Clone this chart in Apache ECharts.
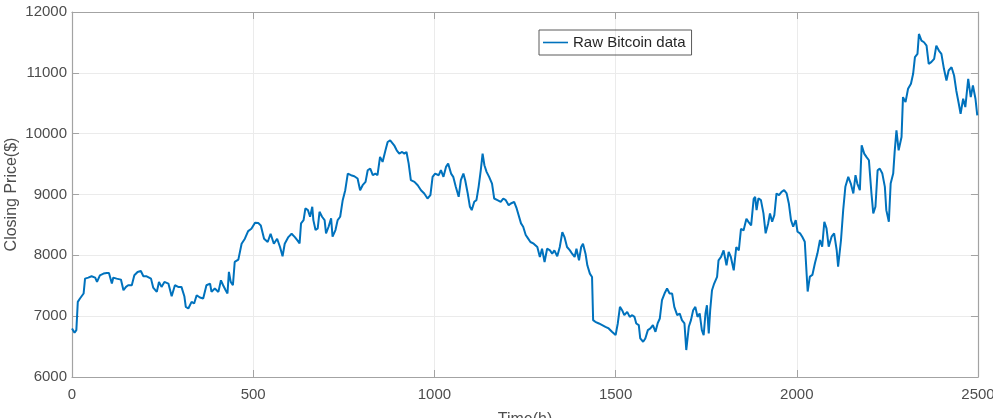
<!DOCTYPE html>
<html>
<head>
<meta charset="utf-8">
<script src="https://cdn.jsdelivr.net/npm/echarts@6/dist/echarts.min.js"></script>
<style>
  html, body { margin: 0; padding: 0; background: #fff; }
  #chart { width: 993px; height: 418px; }
</style>
</head>
<body>
<div id="chart"></div>
<script>
// hours (h)
const hours = [
  0, 7, 12, 16, 22, 27, 32, 36, 45, 54, 64, 69, 77, 87, 96, 102, 110, 114, 123, 135,
  142, 149, 155, 165, 172, 181, 190, 197, 206, 218, 224, 234, 240, 247, 255, 266, 275, 284, 293, 302,
  310, 314, 321, 330, 337, 344, 353, 362, 371, 381, 385, 394, 404, 411, 417, 424, 429, 433, 438, 444,
  449, 459, 468, 477, 486, 495, 505, 514, 521, 530, 540, 548, 557, 566, 574, 581, 587, 597, 606, 615,
  622, 628, 632, 639, 644, 651, 657, 663, 666, 672, 678, 683, 690, 697, 701, 708, 715, 719, 727, 733,
  740, 747, 754, 761, 770, 779, 788, 795, 802, 810, 816, 823, 830, 837, 843, 850, 857, 865, 871, 878,
  883, 889, 896, 903, 911, 917, 923, 929, 935, 945, 954, 963, 972, 981, 989, 995, 1002, 1012, 1018, 1025,
  1032, 1038, 1046, 1052, 1059, 1067, 1073, 1080, 1085, 1092, 1098, 1103, 1110, 1116, 1122, 1128, 1133, 1138, 1144, 1151,
  1159, 1165, 1174, 1183, 1190, 1197, 1205, 1211, 1220, 1227, 1232, 1239, 1245, 1252, 1256, 1265, 1274, 1284, 1291, 1297,
  1304, 1311, 1319, 1325, 1331, 1339, 1346, 1353, 1359, 1366, 1374, 1380, 1387, 1392, 1399, 1405, 1410, 1417, 1422, 1429,
  1435, 1438, 1444, 1454, 1463, 1472, 1481, 1490, 1500, 1506, 1512, 1518, 1524, 1532, 1539, 1546, 1552, 1557, 1564, 1568,
  1576, 1582, 1589, 1596, 1603, 1610, 1616, 1622, 1628, 1635, 1642, 1649, 1656, 1662, 1670, 1677, 1683, 1690, 1695, 1702,
  1708, 1714, 1720, 1726, 1732, 1738, 1743, 1748, 1752, 1757, 1761, 1766, 1772, 1780, 1784, 1791, 1798, 1806, 1812, 1818,
  1826, 1833, 1840, 1846, 1853, 1861, 1867, 1874, 1881, 1885, 1889, 1894, 1901, 1908, 1914, 1921, 1926, 1932, 1938, 1944,
  1951, 1958, 1965, 1972, 1978, 1984, 1990, 1997, 2002, 2009, 2015, 2022, 2027, 2030, 2036, 2043, 2050, 2057, 2064, 2070,
  2076, 2082, 2088, 2096, 2103, 2110, 2114, 2122, 2128, 2134, 2142, 2149, 2156, 2162, 2167, 2174, 2179, 2186, 2192, 2199,
  2206, 2211, 2217, 2223, 2229, 2236, 2243, 2247, 2254, 2259, 2266, 2270, 2275, 2281, 2289, 2293, 2300, 2307, 2315, 2321,
  2326, 2333, 2337, 2344, 2351, 2358, 2364, 2371, 2379, 2385, 2392, 2399, 2406, 2413, 2419, 2427, 2434, 2440, 2447, 2452,
  2459, 2465, 2473, 2480, 2486, 2493, 2498
];

// closing price ($)
const price = [
  6798, 6727, 6771, 7235, 7290, 7262, 7372, 7617, 7634, 7656, 7634, 7563, 7672, 7700, 7710, 7710, 7536, 7634, 7617, 7601,
  7426, 7481, 7508, 7508, 7672, 7727, 7743, 7656, 7656, 7617, 7470, 7399, 7563, 7481, 7563, 7536, 7328, 7508, 7481, 7481,
  7328, 7153, 7126, 7235, 7208, 7344, 7306, 7290, 7508, 7536, 7399, 7454, 7399, 7590, 7508, 7426, 7372, 7727, 7563, 7508,
  7891, 7929, 8191, 8273, 8399, 8437, 8535, 8530, 8492, 8273, 8219, 8355, 8191, 8273, 8137, 7984, 8191, 8300, 8355, 8300,
  8246, 8197, 8525, 8579, 8771, 8743, 8634, 8798, 8579, 8415, 8443, 8716, 8634, 8579, 8361, 8470, 8607, 8306, 8415, 8579,
  8634, 8907, 9071, 9344, 9317, 9301, 9262, 9071, 9153, 9208, 9399, 9426, 9317, 9344, 9317, 9618, 9536, 9727, 9863, 9891,
  9902, 9809, 9727, 9672, 9699, 9672, 9699, 9508, 9235, 9208, 9153, 9071, 9016, 8934, 8989, 9290, 9344, 9317, 9399, 9290,
  9454, 9508, 9344, 9290, 9126, 8962, 9235, 9344, 9235, 9016, 8798, 8743, 8880, 8907, 9126, 9399, 9672, 9481, 9372, 9290,
  9180, 8934, 8907, 8880, 8934, 8907, 8825, 8852, 8880, 8771, 8798, 8525, 8470, 8334, 8300, 8219, 8191, 8137, 7973, 8109,
  7891, 8109, 8082, 8027, 8082, 7984, 8137, 8382, 8300, 8137, 8082, 8027, 7973, 8109, 7918, 8137, 8191, 8027, 7836, 7699,
  7645, 6935, 6907, 6880, 6853, 6825, 6798, 6743, 6689, 6880, 7153, 7098, 7016, 7071, 6989, 7016, 6989, 6880, 6853, 6634,
  6579, 6634, 6771, 6798, 6853, 6743, 6880, 6962, 7262, 7372, 7454, 7372, 7372, 7153, 7016, 7044, 6935, 6880, 6443, 6825,
  6935, 7098, 7153, 6989, 7044, 6771, 6689, 7044, 7180, 6716, 7098, 7426, 7536, 7645, 7918, 7973, 8082, 7836, 8055, 7973,
  7754, 8137, 8082, 8437, 8410, 8601, 8546, 8492, 8929, 8962, 8743, 8935, 8907, 8689, 8361, 8525, 8689, 8552, 8661, 9017,
  8989, 9044, 9071, 9017, 8853, 8579, 8470, 8579, 8388, 8361, 8306, 8224, 7705, 7405, 7651, 7678, 7869, 8033, 8252, 8143,
  8552, 8443, 8143, 8306, 8361, 8088, 7815, 8252, 8743, 9126, 9290, 9180, 9017, 9317, 9180, 9071, 9809, 9672, 9618, 9563,
  9017, 8689, 8798, 9399, 9426, 9344, 9126, 8743, 8552, 9180, 9344, 9700, 10055, 9727, 9945, 10601, 10519, 10738, 10820, 10984,
  11257, 11311, 11639, 11530, 11503, 11448, 11148, 11175, 11230, 11448, 11366, 11311, 11066, 10874, 11038, 11093, 10956, 10710, 10492, 10328,
  10574, 10437, 10902, 10601, 10792, 10574, 10301
];

const xTicks = [0, 500, 1000, 1500, 2000, 2500];
const yTicks = [6000, 7000, 8000, 9000, 10000, 11000, 12000];

const chart = echarts.init(document.getElementById("chart"), null, { renderer: "canvas" });

const axisColor = "#a3a3a3";
const labelColor = "#4d4d4d";
const fontFamily = "Liberation Sans, Arial, sans-serif";

// MATLAB style box: ticks pointing inwards on all four sides
function boxAxis(pos, isX) {
  return {
    type: "value",
    position: pos,
    min: isX ? xTicks[0] : yTicks[0],
    max: isX ? xTicks[xTicks.length - 1] : yTicks[yTicks.length - 1],
    interval: isX ? 500 : 1000,
    axisLine: { show: true, onZero: false, lineStyle: { color: axisColor, width: 1.2 } },
    axisTick: { show: true, inside: true, length: 7, lineStyle: { color: axisColor } },
    axisLabel: { show: false },
    splitLine: { show: false }
  };
}

chart.setOption({
  animation: false,
  backgroundColor: "#ffffff",
  grid: { left: 72, right: 15, top: 12, bottom: 41, outerBoundsMode: "none", containLabel: false },
  legend: {
    left: 539,
    top: 30,
    padding: [5, 6, 5, 4],
    borderColor: "#5a5a5a",
    borderWidth: 1,
    borderRadius: 0,
    itemWidth: 25,
    itemHeight: 10,
    textStyle: { color: "#262626", fontSize: 15, fontFamily: fontFamily },
    data: [{ name: "Raw Bitcoin data", icon: "path://M0,5 L25,5 L25,6.6 L0,6.6 Z" }]
  },
  xAxis: [
    Object.assign(boxAxis("bottom", true), {
      name: "Time(h)",
      nameLocation: "middle",
      nameGap: 35,
      nameMoveOverlap: false,
      nameTextStyle: { color: labelColor, fontSize: 16, fontFamily: fontFamily },
      axisLabel: { show: true, color: labelColor, fontSize: 15, margin: 10, fontFamily: fontFamily, formatter: v => String(v) },
      splitLine: { show: true, lineStyle: { color: "#ebebeb", width: 1 } }
    }),
    boxAxis("top", true)
  ],
  yAxis: [
    Object.assign(boxAxis("left", false), {
      name: "Closing Price($)",
      nameLocation: "middle",
      nameGap: 52,
      nameMoveOverlap: false,
      nameTextStyle: { color: labelColor, fontSize: 16, fontFamily: fontFamily },
      axisLabel: { show: true, color: labelColor, fontSize: 15, margin: 5, fontFamily: fontFamily, formatter: v => String(v) },
      splitLine: { show: true, lineStyle: { color: "#ebebeb", width: 1 } }
    }),
    boxAxis("right", false)
  ],
  series: [
    {
      name: "Raw Bitcoin data",
      type: "line",
      xAxisIndex: 0,
      yAxisIndex: 0,
      data: hours.map((h, i) => [h, price[i]]),
      symbol: "none",
      showSymbol: false,
      lineStyle: { color: "#0072BD", width: 2 },
      itemStyle: { color: "#0072BD" }
    }
  ]
});
</script>
</body>
</html>
